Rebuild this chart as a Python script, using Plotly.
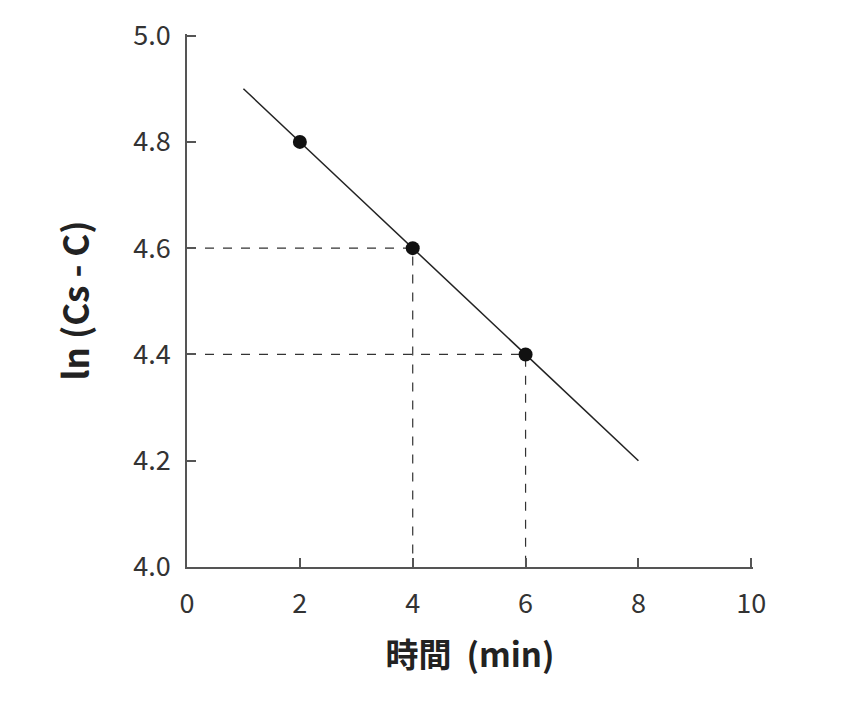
import plotly.graph_objects as go

# Data
point_x = [2, 4, 6]
point_y = [4.8, 4.6, 4.4]
fit_x = [1, 8]
fit_y = [4.9, 4.2]
guide1_x = [0, 4, 4]
guide1_y = [4.6, 4.6, 4.0]
guide2_x = [0, 6, 6]
guide2_y = [4.4, 4.4, 4.0]
x_ticks = [0, 2, 4, 6, 8, 10]
y_ticks = [4.0, 4.2, 4.4, 4.6, 4.8, 5.0]
x_title = "時間\u00a0\u00a0(min)"
y_title = "ln\u00a0(Cs\u00a0-\u00a0C)"

FONT = "Noto Sans CJK JP"
TICKFONT = "Liberation Sans Narrow, Noto Sans CJK JP"

fig = go.Figure()
for gx, gy in [(guide1_x, guide1_y), (guide2_x, guide2_y)]:
    fig.add_trace(go.Scatter(x=gx, y=gy, mode="lines",
                             line=dict(color="#333333", width=1.2, dash="dash"),
                             showlegend=False, hoverinfo="skip"))
fig.add_trace(go.Scatter(x=fit_x, y=fit_y, mode="lines",
                         line=dict(color="#222222", width=1.5),
                         showlegend=False))
fig.add_trace(go.Scatter(x=point_x, y=point_y, mode="markers",
                         marker=dict(color="#111111", size=14),
                         showlegend=False, cliponaxis=False))

axis_common = dict(
    showgrid=False, zeroline=False, showline=True, linecolor="#555555", linewidth=1.5,
    ticks="inside", ticklen=9, tickwidth=1.5, tickcolor="#555555",
    tickfont=dict(family=TICKFONT, size=27, color="#333333"),
)
fig.update_xaxes(range=[0, 10.03], tickmode="array", tickvals=x_ticks, ticktext=[str(v) for v in x_ticks],
                 ticklabelstandoff=12,
                 title=dict(text=f"<b>{x_title}</b>", font=dict(family=FONT, size=33, color="#222222"), standoff=24),
                 **axis_common)
fig.update_yaxes(range=[4.0, 5.003], tickmode="array", tickvals=y_ticks, ticktext=[f"{v:.1f}" for v in y_ticks],
                 ticklabelstandoff=9,
                 title=dict(text=f"<b>{y_title}</b>", font=dict(family=FONT, size=35, color="#222222"), standoff=33),
                 **axis_common)
fig.update_layout(
    width=851, height=703,
    margin=dict(l=179, r=106, t=26, b=144, autoexpand=False),
    plot_bgcolor="white", paper_bgcolor="white",
    font=dict(family=FONT),
)
fig.write_html("out.html")
